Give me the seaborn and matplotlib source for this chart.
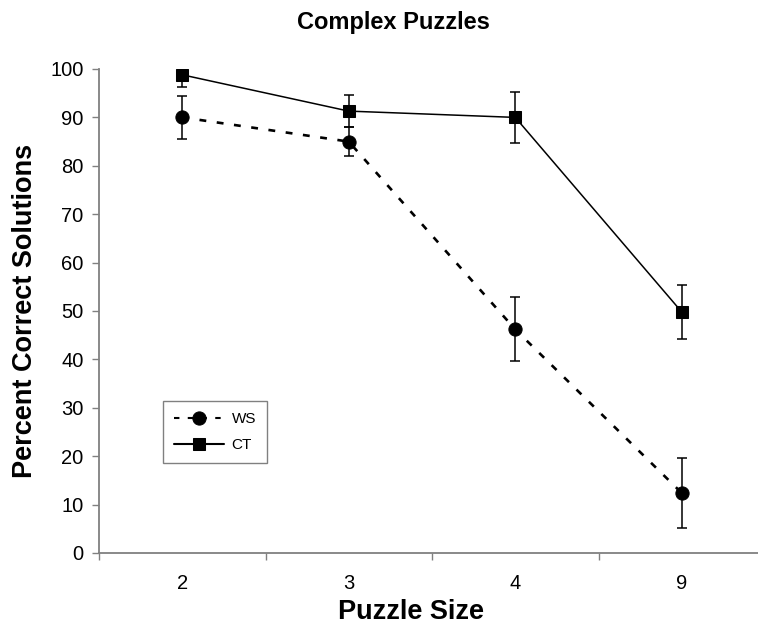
import matplotlib
matplotlib.use("Agg")
import matplotlib.pyplot as plt
import seaborn as sns
import pandas as pd
import numpy as np

# Puzzle sizes and group means / error margins (percent correct)
puzzle_sizes = ["2", "3", "4", "9"]
ws_mean = [90.0, 85.0, 46.2, 12.4]
ws_err = [4.5, 3.0, 6.6, 7.3]
ct_mean = [98.8, 91.3, 90.0, 49.8]
ct_err = [2.6, 3.3, 5.2, 5.6]
groups = ["WS", "CT"]

sns.set_theme(style="white")
plt.rcParams["font.family"] = ["Liberation Sans", "DejaVu Sans"]
plt.rcParams["text.color"] = "black"
plt.rcParams["axes.labelcolor"] = "black"
plt.rcParams["xtick.color"] = "black"
plt.rcParams["ytick.color"] = "black"

pos = np.arange(len(puzzle_sizes))
df = pd.DataFrame({
    "pos": np.concatenate([pos, pos]),
    "value": ws_mean + ct_mean,
    "group": [groups[0]] * len(pos) + [groups[1]] * len(pos),
})

fig = plt.figure(figsize=(7.58, 6.27), dpi=100)
ax = fig.add_axes([99 / 758, 1 - 553 / 627, 666 / 758, (553 - 69) / 627])

sns.lineplot(
    data=df, x="pos", y="value", hue="group", style="group",
    palette={"WS": "black", "CT": "black"},
    markers={"WS": "o", "CT": "s"},
    dashes={"WS": (2.6, 4.0), "CT": ""},
    markersize=9.5, markeredgecolor="black", ax=ax, legend=True,
)
for line, lw in zip(ax.lines, [1.9, 1.1]):
    line.set_linewidth(lw)
for line in ax.lines:
    if line.get_marker() == "s":
        line.set_markersize(8.5)

ax.errorbar(pos, ws_mean, yerr=ws_err, fmt="none", ecolor="black",
            elinewidth=1.1, capsize=3.5, capthick=1.1, zorder=1)
ax.errorbar(pos, ct_mean, yerr=ct_err, fmt="none", ecolor="black",
            elinewidth=1.1, capsize=3.5, capthick=1.1, zorder=1)

ax.set_xlim(-0.5, len(puzzle_sizes) - 0.5)
ax.set_ylim(0, 100)
ax.set_yticks(np.arange(0, 101, 10))
ax.set_xticks(pos)
ax.set_xticklabels(puzzle_sizes)
ax.set_xticks(np.arange(-0.5, len(puzzle_sizes), 1.0), minor=True)
ax.tick_params(axis="x", which="major", length=0, labelsize=14.5, pad=15,
               labelcolor="black")
ax.tick_params(axis="x", which="minor", length=5, width=1, color="#808080",
               direction="out", bottom=True)
ax.tick_params(axis="y", which="major", length=5, width=1, color="#808080",
               direction="out", left=True, labelsize=14.5, pad=6,
               labelcolor="black")

for side in ["top", "right"]:
    ax.spines[side].set_visible(False)
for side in ["left", "bottom"]:
    ax.spines[side].set_color("#808080")
    ax.spines[side].set_linewidth(1.3)

ax.set_xlabel("Puzzle Size", fontsize=19.5, fontweight="bold", color="black")
ax.xaxis.set_label_coords((411 - 99) / 666, -0.121)
ax.xaxis.label.set_va("center")
ax.set_ylabel("Percent Correct Solutions", fontsize=19.5, fontweight="bold",
              labelpad=9, color="black")
fig.text(393 / 758, 1 - 22 / 627, "Complex Puzzles", fontsize=17,
         fontweight="bold", ha="center", va="center", color="black")

handles, labels = ax.get_legend_handles_labels()
leg = ax.legend(handles, labels, loc="lower left",
                bbox_to_anchor=(64 / 666, 90 / 484), borderaxespad=0,
                fontsize=11, handlelength=3.3, fancybox=False, frameon=True,
                edgecolor="#808080", framealpha=1, labelspacing=0.8,
                borderpad=0.7, handletextpad=0.5)
leg.get_frame().set_linewidth(1.0)
for t in leg.get_texts():
    t.set_color("black")

fig.savefig("out.png", dpi=100)
